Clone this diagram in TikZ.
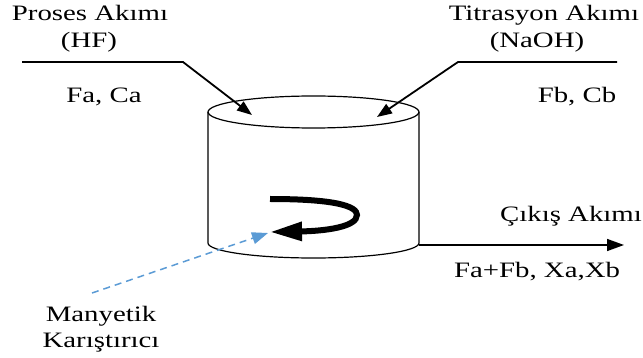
\documentclass[tikz,border=0pt]{standalone}
\usepackage{fontspec}
\setmainfont{Liberation Serif}
\usetikzlibrary{arrows.meta}
\definecolor{stirblue}{HTML}{5B9BD5}
% labels are set slightly widened
\newcommand{\wtxt}[1]{\scalebox{1.31}[1]{#1}}
\begin{document}
\begin{tikzpicture}[x=1pt,y=-1pt,
  lbl/.style={inner sep=0pt, font=\fontsize{22}{27}\selectfont, anchor=base},
  feed/.style={line width=1.8pt, -{Triangle[length=15pt,width=11pt]}},
  vessel/.style={line width=1.2pt},
  stirrer/.style={line width=6pt, -{Triangle[length=32pt,width=18pt]}},
  magnet/.style={stirblue, line width=1.5pt, dash pattern=on 7pt off 5pt,
                 -{Triangle[length=16pt,width=12pt]}}]
\useasboundingbox (0,0) rectangle (643,358);

% reactor vessel
\draw[vessel] (208,112) -- (208,243)
  arc[start angle=180, end angle=360, x radius=105.5pt, y radius=15pt] -- (419,112);
\draw[vessel] (313.5,112) ellipse[x radius=105.5pt, y radius=16pt];

% labels
\node[lbl] (proses) at (90,21) {\wtxt{Proses Akımı}};
\node[lbl] (hf) at (89,48) {\wtxt{(HF)}};
\node[lbl] (faca) at (104,103) {\wtxt{Fa, Ca}};
\node[lbl] (titr) at (544,21) {\wtxt{Titrasyon Akımı}};
\node[lbl] (naoh) at (537,48) {\wtxt{(NaOH)}};
\node[lbl] (fbcb) at (577,103) {\wtxt{Fb, Cb}};
\node[lbl] (cikis) at (571,222) {\wtxt{Çıkış Akımı}};
\node[lbl] (outvals) at (537,278) {\wtxt{Fa+Fb, Xa,Xb}};
\node[lbl] (many) at (101,321) {\wtxt{Manyetik}};
\node[lbl] (kar) at (101,348) {\wtxt{Karıştırıcı}};

% feed streams
\coordinate (pa) at (22,62);
\coordinate (pb) at (183,62);
\coordinate (pc) at (252,115);
\draw[feed] (pa) -- (pb) -- (pc);
\coordinate (ta) at (617,62);
\coordinate (tb) at (458,62);
\coordinate (tc) at (377,117);
\draw[feed] (ta) -- (tb) -- (tc);

% outlet stream
\coordinate (oa) at (419,245);
\coordinate (ob) at (624,245);
\draw[line width=1.5pt, -{Triangle[length=17pt,width=12pt]}] (oa) -- (ob);

% stirring motion
\coordinate (sa) at (270,199);
\coordinate (sb) at (357,215);
\coordinate (sc) at (270,232);
\draw[stirrer] (sa) .. controls (335,199) and (357,206) .. (sb)
  .. controls (357,227) and (325,231) .. (sc);

% magnetic stirrer pointer
\coordinate (ma) at (92,293);
\coordinate (mb) at (268,233);
\draw[magnet] (ma) -- (mb);
\end{tikzpicture}
\end{document}
